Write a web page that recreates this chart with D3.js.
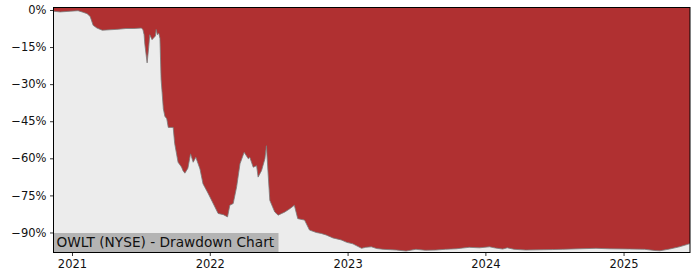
<!DOCTYPE html>
<html>
<head>
<meta charset="utf-8">
<script src="https://cdn.jsdelivr.net/npm/d3@7"></script>
<style>
	body { margin: 0; background: #fff; }
	svg text { font-family: "DejaVu Sans", sans-serif; fill: #111; }
</style>
</head>
<body>
<svg id="chart" width="700" height="280"></svg>
<script>
// drawdown of OWLT
let dd_dates = [
	'2020-11-13', '2020-12-01', '2020-12-27', '2021-01-17', '2021-01-30', '2021-02-10',
	'2021-02-18', '2021-02-26', '2021-03-08', '2021-03-22', '2021-04-12', '2021-05-03',
	'2021-05-24', '2021-06-14', '2021-07-04', '2021-07-08', '2021-07-11', '2021-07-13',
	'2021-07-19', '2021-07-23', '2021-07-26', '2021-08-01', '2021-08-04', '2021-08-10',
	'2021-08-12', '2021-08-15', '2021-08-19', '2021-08-22', '2021-08-25', '2021-08-27',
	'2021-08-31', '2021-09-04', '2021-09-09', '2021-09-13', '2021-09-20', '2021-09-26',
	'2021-09-30', '2021-10-09', '2021-10-18', '2021-10-22', '2021-10-27', '2021-11-04',
	'2021-11-11', '2021-11-18', '2021-11-25', '2021-12-06', '2021-12-14', '2021-12-28',
	'2022-01-10', '2022-01-23', '2022-02-06', '2022-02-17', '2022-02-23', '2022-03-04',
	'2022-03-13', '2022-03-22', '2022-04-02', '2022-04-13', '2022-04-17', '2022-04-26',
	'2022-05-05', '2022-05-09', '2022-05-18', '2022-05-27', '2022-05-31', '2022-06-04',
	'2022-06-09', '2022-06-22', '2022-07-01', '2022-07-19', '2022-07-31', '2022-08-13',
	'2022-08-22', '2022-09-09', '2022-09-22', '2022-10-10', '2022-10-23', '2022-11-05',
	'2022-11-23', '2022-12-15', '2022-12-30', '2023-01-15', '2023-02-07', '2023-02-18',
	'2023-03-05', '2023-03-19', '2023-04-05', '2023-05-10', '2023-06-05', '2023-07-01',
	'2023-07-26', '2023-08-23', '2023-09-17', '2023-10-16', '2023-11-19', '2023-12-16',
	'2024-01-12', '2024-01-28', '2024-02-16', '2024-02-28', '2024-03-17', '2024-04-17',
	'2024-05-23', '2024-06-27', '2024-07-24', '2024-09-06', '2024-10-20', '2024-11-25',
	'2025-01-17', '2025-02-26', '2025-03-25', '2025-04-07', '2025-05-03', '2025-05-29',
	'2025-06-20', '2025-06-26'
];
let dd_values = [
	-0.5, -0.8, -0.5, -0.3, -0.9, -1.5,
	-2.6, -6.2, -7.3, -8.2, -8.0, -7.8,
	-7.5, -7.5, -7.3, -8.0, -10, -14,
	-21.4, -15.4, -10, -12, -11.5, -10.5,
	-7.9, -10, -9.4, -11.5, -28, -32,
	-40, -43, -44, -47.5, -47.5, -47.5,
	-54, -61.6, -63.5, -65, -66, -64,
	-58.2, -61.6, -59.6, -64.3, -70.3, -74.3,
	-78.3, -82.3, -82.8, -83.7, -79, -78.3,
	-71.6, -62.2, -57.6, -60.2, -59.6, -63.6,
	-63, -67.6, -65, -60.2, -54.9, -65,
	-77, -81.7, -83, -81.7, -80.5, -79,
	-84.4, -85, -89, -90, -90.4, -91,
	-92.2, -93, -94, -94.6, -96.4, -96,
	-95.8, -96.5, -96.8, -97.1, -97.5, -96.8,
	-97.2, -97.1, -96.8, -96.6, -96, -96.2,
	-95.8, -96.3, -96.7, -96.2, -96.8, -97.1,
	-97.0, -96.9, -96.8, -96.6, -96.4, -96.6,
	-96.7, -96.8, -97.3, -97.4, -96.7, -95.8,
	-94.8, -94.5
];
let y_ticks = [0, -15, -30, -45, -60, -75, -90];
let x_ticks = ['2021', '2022', '2023', '2024', '2025'];
let chart_title = 'OWLT (NYSE) - Drawdown Chart';

let margin = {top: 7.5, right: 10, bottom: 27.5, left: 53.5},
	width = 700 - margin.left - margin.right,
	height = 280 - margin.top - margin.bottom;

let parse = d3.timeParse('%Y-%m-%d');
let data = dd_dates.map((d, i) => ({date: parse(d), dd: dd_values[i]}));

let x = d3.scaleTime()
	.domain([parse('2020-11-13'), parse('2025-06-26')])
	.range([0, width]);
let y = d3.scaleLinear()
	.domain([-98.1, 1.0])
	.range([height, 0]);

let svg = d3.select('#chart');
let g = svg.append('g')
	.attr('transform', `translate(${margin.left}, ${margin.top})`);

// plot background
g.append('rect')
	.attr('width', width)
	.attr('height', height)
	.attr('fill', '#ececec');

let clip = svg.append('defs').append('clipPath').attr('id', 'plot_clip');
clip.append('rect').attr('width', width).attr('height', height);

let plot = g.append('g').attr('clip-path', 'url(#plot_clip)');

let area = d3.area()
	.x(d => x(d.date))
	.y0(y(0) - 10)
	.y1(d => y(d.dd));

plot.append('path')
	.datum(data)
	.attr('d', area)
	.attr('fill', '#b03031');

let line = d3.line()
	.x(d => x(d.date))
	.y(d => y(d.dd));

plot.append('path')
	.datum(data)
	.attr('d', line)
	.attr('fill', 'none')
	.attr('stroke', '#7a7a7a')
	.attr('stroke-width', 1)
	.attr('stroke-opacity', 0.8);

// title box
let title = g.append('g')
	.attr('transform', `translate(0, ${height})`);
title.append('rect')
	.attr('x', 0)
	.attr('y', -19.5)
	.attr('width', 225)
	.attr('height', 19.5)
	.attr('fill', '#b4b4b4');
title.append('text')
	.attr('x', 3)
	.attr('y', -5.5)
	.style('font-size', '13.7px')
	.text(chart_title);

// axes
let y_axis = d3.axisLeft(y)
	.tickValues(y_ticks)
	.tickSize(3.5)
	.tickPadding(3.5)
	.tickFormat(d => `${d3.format('d')(d).replace('-', '\u2212')}%`);
let x_axis = d3.axisBottom(x)
	.tickValues(x_ticks.map(t => parse(`${t}-01-01`)))
	.tickSize(3.5)
	.tickPadding(3.5)
	.tickFormat(d3.timeFormat('%Y'));

let ya = g.append('g').call(y_axis);
let xa = g.append('g').attr('transform', `translate(0, ${height})`).call(x_axis);
[ya, xa].forEach(a => {
	a.select('.domain').remove();
	a.selectAll('text').style('font-size', '11.5px').attr('fill', '#111');
	a.selectAll('line').attr('stroke', '#000').attr('stroke-width', 0.8);
});

// frame
g.append('rect')
	.attr('width', width)
	.attr('height', height)
	.attr('fill', 'none')
	.attr('stroke', '#000')
	.attr('stroke-width', 1);
</script>
</body>
</html>
